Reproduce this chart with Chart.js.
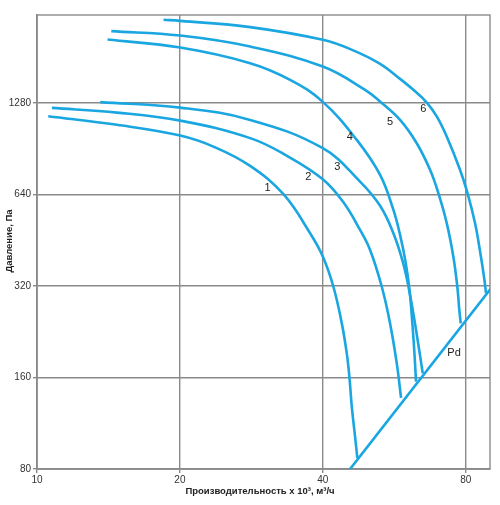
<!DOCTYPE html>
<html>
<head>
<meta charset="utf-8">
<script src="https://cdn.jsdelivr.net/npm/chart.js@4/dist/chart.umd.min.js"></script>
<style>
  body { margin: 0; background: #fff; }
  #wrap { width: 500px; height: 505px; }
</style>
</head>
<body>
<div id="wrap"><canvas id="chart"></canvas></div>
<script>
// fan curves: [flow x10^3 m3/h, pressure Pa]
let curve1 = [[10.56, 1157], [14.74, 1084], [20.03, 999], [23.73, 914], [28.12, 794], [33.05, 641], [37.61, 477], [40, 400], [42.11, 318], [43.86, 241], [44.93, 192], [45.5, 161], [46.04, 128], [46.78, 102], [47.3, 86.8]];
let curve2 = [[10.75, 1232], [14.74, 1189], [20.03, 1119], [28.12, 980], [33.49, 860], [40, 718], [44.13, 605], [47.92, 489], [50.31, 420], [53.25, 318], [55.43, 241], [57.26, 178], [58.47, 137]];
let curve3 = [[13.59, 1287], [20.03, 1235], [28.12, 1125], [40, 908], [47.92, 705], [52.81, 587], [56.33, 477], [59.12, 378], [61.07, 299], [63.02, 224], [64.95, 165]];
let curve4 = [[14.08, 2068], [20.03, 1946], [28.12, 1729], [34.13, 1524], [40, 1290], [47.16, 967], [52.81, 742], [56.33, 569], [58.18, 471], [59.75, 384], [60.92, 310], [61.72, 244], [62.36, 194], [62.87, 155]];
let curve5 = [[14.34, 2203], [20.03, 2131], [28.12, 1961], [40, 1685], [49.1, 1413], [52.81, 1293], [58.18, 1125], [63.08, 943], [67.29, 771], [70.06, 646], [72.96, 515], [75.33, 400], [76.81, 318], [77.55, 267], [78.09, 241]];
let curve6 = [[18.47, 2401], [20.03, 2382], [28.12, 2271], [40, 2063], [46.1, 1912], [52.81, 1720], [58.18, 1535], [62.06, 1413], [66.23, 1283], [69.61, 1151], [72.96, 992], [77.82, 771], [80.7, 646], [83.69, 515], [85.74, 417], [87.42, 343], [88.27, 303]];
let pdLine = [[44.8, 77], [92, 325]];

let xTicks = [10, 20, 40, 80];
let yTicks = [80, 160, 320, 640, 1280];

let curveNames = ["1", "2", "3", "4", "5", "6", "Pd"];
let labelPos = [[30.6, 672], [37.3, 728], [42.9, 790], [45.6, 988], [55.4, 1108], [65.1, 1218], [75.6, 193]];

let lineColor = "#1aa6e0";
let gridColor = "#8a8a8a";

let series = [curve1, curve2, curve3, curve4, curve5, curve6, pdLine];

let extras = {
    id: "extras",
    beforeDatasetsDraw(chart) {
        let ctx = chart.ctx;
        let a = chart.chartArea;
        ctx.save();
        ctx.strokeStyle = gridColor;
        ctx.lineWidth = 1.4;
        ctx.strokeRect(a.left, a.top, a.right - a.left, a.bottom - a.top);
        ctx.restore();
    },
    afterDraw(chart) {
        let ctx = chart.ctx;
        let xs = chart.scales.x;
        let ys = chart.scales.y;
        ctx.save();
        ctx.fillStyle = "#222";
        ctx.font = "11px 'Liberation Sans', Arial, sans-serif";
        ctx.textAlign = "center";
        ctx.textBaseline = "middle";
        curveNames.forEach((n, i) => {
            ctx.fillText(n, xs.getPixelForValue(labelPos[i][0]), ys.getPixelForValue(labelPos[i][1]));
        });

        ctx.font = "bold 9.5px 'Liberation Sans', Arial, sans-serif";
        ctx.fillText("Производительность x 10³, м³/ч", 260, 491);
        ctx.translate(9, 241);
        ctx.rotate(-Math.PI / 2);
        ctx.fillText("Давление, Па", 0, 0);
        ctx.restore();
    }
};

let context = document.getElementById("chart").getContext("2d");

let chart = new Chart(context, {
    type: "line",
    data: {
        datasets: series.map((s, i) => {
            return {
                label: curveNames[i],
                data: s.map(p => ({ x: p[0], y: p[1] })),
                borderColor: lineColor,
                backgroundColor: lineColor,
                borderWidth: 2.6,
                pointRadius: 0,
                fill: false,
                tension: i < 6 ? 0.4 : 0
            };
        })
    },
    plugins: [extras],
    options: {
        responsive: true,
        maintainAspectRatio: false,
        animation: false,
        layout: { padding: { top: 15, right: 10, left: 0, bottom: 0 } },
        plugins: {
            legend: { display: false },
            tooltip: { enabled: false }
        },
        scales: {
            x: {
                type: "logarithmic",
                min: 10,
                max: 90,
                afterBuildTicks: axis => { axis.ticks = xTicks.map(v => ({ value: v })); },
                afterFit: axis => { axis.height = 36; },
                border: { color: gridColor, width: 1.4 },
                grid: { color: gridColor, lineWidth: 1.4, tickLength: 4, drawOnChartArea: true },
                ticks: {
                    autoSkip: false,
                    maxRotation: 0,
                    padding: 1,
                    color: "#333",
                    font: { size: 10, family: "'Liberation Sans', Arial, sans-serif" },
                    callback: v => String(v)
                }
            },
            y: {
                type: "logarithmic",
                min: 80,
                max: 2490,
                afterBuildTicks: axis => { axis.ticks = yTicks.map(v => ({ value: v })); },
                afterFit: axis => { axis.width = 37; },
                border: { color: gridColor, width: 1.4 },
                grid: { color: gridColor, lineWidth: 1.4, tickLength: 4 },
                ticks: {
                    autoSkip: false,
                    padding: 2,
                    color: "#333",
                    font: { size: 10, family: "'Liberation Sans', Arial, sans-serif" },
                    callback: v => String(v)
                }
            }
        }
    }
});
</script>
</body>
</html>
